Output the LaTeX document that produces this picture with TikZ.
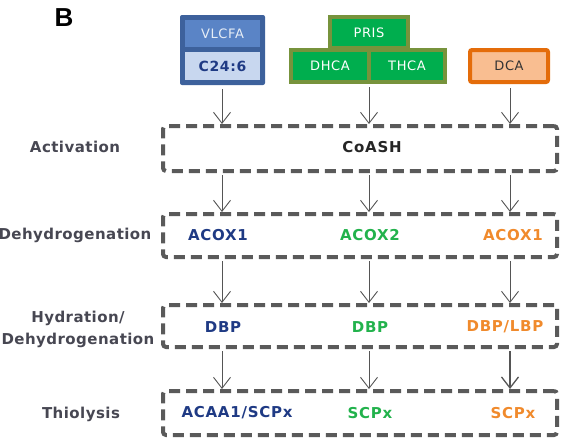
\documentclass[tikz,border=0pt]{standalone}
\usepackage{fontspec}
\setmainfont{DejaVu Sans}
\newfontfamily\labfont[LetterSpace=3]{DejaVu Sans}
\newfontfamily\rowfont[LetterSpace=5]{DejaVu Sans}
\newfontfamily\boxfont[LetterSpace=5]{DejaVu Sans}
\newfontfamily\panelfont{Liberation Sans}
\usetikzlibrary{arrows.meta,calc}

\definecolor{stagegray}{HTML}{5A5A5A}
\definecolor{labgray}{HTML}{474752}
\definecolor{arrgray}{HTML}{555555}
\definecolor{cnavy}{HTML}{1F3A84}
\definecolor{cgreen}{HTML}{22B24C}
\definecolor{corange}{HTML}{F08A2C}
\definecolor{vlcedge}{HTML}{3D619C}
\definecolor{vlctop}{HTML}{5A84C6}
\definecolor{vlclow}{HTML}{C8D7EF}
\definecolor{colive}{HTML}{77933C}
\definecolor{gfill}{HTML}{00AE4E}
\definecolor{dcaedge}{HTML}{E46C0A}
\definecolor{dcafill}{HTML}{F9BE91}

\tikzset{
  stage/.style={draw=stagegray, line width=4pt, dash pattern=on 11pt off 6pt,
    rounded corners=3pt, minimum width=394pt, inner sep=0pt},
  lab/.style={font=\labfont\bfseries\fontsize{15}{22}\selectfont, text=labgray, inner sep=0pt},
  rowtxt/.style={font=\rowfont\bfseries\fontsize{15}{17}\selectfont, inner sep=0pt},
  boxtxt/.style={font=\boxfont\fontsize{13}{15}\selectfont, inner sep=0pt},
  gbox/.style={draw=colive, line width=4pt, fill=gfill, inner sep=0pt,
    text=white, font=\boxfont\fontsize{13}{15}\selectfont},
  arr/.style={draw=arrgray, line width=0.9pt, -{Straight Barb[length=11pt,width=17pt]}}
}

\begin{document}
\begin{tikzpicture}[x=1pt,y=-1pt]
\useasboundingbox (0,0) rectangle (566,442);

% panel letter
\node[font=\panelfont\bfseries\fontsize{26}{28}\selectfont, inner sep=0pt] (panel) at (64,18) {B};

% substrate boxes
\node[rounded corners=2pt, fill=vlcedge, minimum width=85pt, minimum height=70pt, inner sep=0pt] (vlc) at (222.5,50) {};
\node[boxtxt, fill=vlctop, minimum width=75pt, minimum height=27pt, text=white!85!vlctop] (vlcfa) at (222.5,33.5) {VLCFA};
\node[boxtxt, fill=vlclow, minimum width=75pt, minimum height=28pt, text=cnavy, font=\boxfont\bfseries\fontsize{14}{16}\selectfont] (c246) at (222.5,66) {C24:6};

\node[gbox, minimum width=78pt, minimum height=31pt] (pris) at (369,32.5) {PRIS};
\node[gbox, minimum width=78pt, minimum height=32pt] (dhca) at (330,66) {DHCA};
\node[gbox, minimum width=76pt, minimum height=32pt] (thca) at (407,66) {THCA};

\node[boxtxt, draw=dcaedge, line width=4pt, fill=dcafill, rounded corners=2pt,
  minimum width=78pt, minimum height=32pt, text=black!80] (dca) at (509,66) {DCA};

% pathway stages
\node[stage, minimum height=45pt] (act) at (360,148.5) {};
\node[stage, minimum height=43pt] (dh)  at (360,235.5) {};
\node[stage, minimum height=42pt] (hyd) at (360,326) {};
\node[stage, minimum height=44pt] (thio) at (360,413) {};

% stage labels
\node[lab] (l1) at (75,147) {Activation};
\node[lab] (l2) at (75,235) {Dehydrogenation};
\node[lab, align=center] (l3) at (78,329) {Hydration/\\Dehydrogenation};
\node[lab] (l4) at (81,414) {Thiolysis};

% stage contents
\node[rowtxt, text=black!85] (coa) at (372,147) {CoASH};

\node[rowtxt, text=cnavy] (d1) at (218,235) {ACOX1};
\node[rowtxt, text=cgreen] (d2) at (370,235) {ACOX2};
\node[rowtxt, text=corange] (d3) at (513,235) {ACOX1};

\node[rowtxt, text=cnavy] (h1) at (223,327) {DBP};
\node[rowtxt, text=cgreen] (h2) at (370,327) {DBP};
\node[rowtxt, text=corange] (h3) at (505,327) {DBP/LBP};

\node[rowtxt, text=cnavy] (t1) at (237,413) {ACAA1/SCPx};
\node[rowtxt, text=cgreen] (t2) at (370,413) {SCPx};
\node[rowtxt, text=corange] (t3) at (513,413) {SCPx};

% column positions of the arrows
\coordinate (col1) at (222,0);
\coordinate (col2) at (369,0);
\coordinate (col3) at (510,0);

% arrows from substrates
\draw[arr] ([yshift=-4pt]vlc.south -| col1) -- (act.north -| col1);
\draw[arr] ([yshift=-3pt]dhca.south -| col2) -- (act.north -| col2);
\draw[arr] ([yshift=-4pt]dca.south -| col3) -- (act.north -| col3);

% arrows between stages
\foreach \a/\b in {act/dh, dh/hyd, hyd/thio}{
  \draw[arr] ([yshift=-2pt]\a.south -| col1) -- (\b.north -| col1);
  \draw[arr] ([yshift=-2pt]\a.south -| col2) -- (\b.north -| col2);
}
\draw[arr] ([yshift=-2pt]act.south -| col3) -- (dh.north -| col3);
\draw[arr] ([yshift=-2pt]dh.south -| col3) -- (hyd.north -| col3);
\draw[arr, line width=1.3pt] ([yshift=-2pt]hyd.south -| col3) -- (thio.north -| col3);
\end{tikzpicture}
\end{document}
